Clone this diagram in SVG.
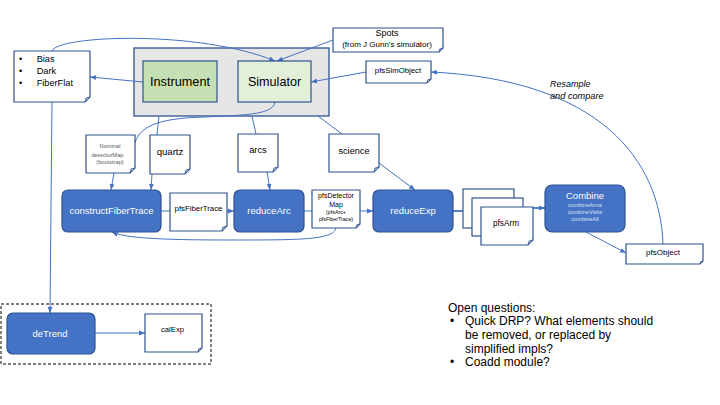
<svg xmlns="http://www.w3.org/2000/svg" width="720" height="405" viewBox="0 0 720 405">
<style>
text{font-family:"Liberation Sans",Arial,sans-serif;fill:#000}
.doc{fill:#fff;stroke:#2f528f;stroke-width:1.2}
.fold{fill:#b4c7e7;stroke:#2f528f;stroke-width:0.8}
.proc{fill:#4472c4;stroke:#2f528f;stroke-width:1.2}
.pt{fill:#fff;text-anchor:middle;font-size:9.5px}
.c{fill:none;stroke:#4472c4;stroke-width:1}
.ca{fill:none;stroke:#4472c4;stroke-width:1;marker-end:url(#ah)}
.m{text-anchor:middle}
</style>
<defs>
<marker id="ah" viewBox="0 0 10 10" refX="10" refY="5" markerWidth="6" markerHeight="6" markerUnits="userSpaceOnUse" orient="auto"><path d="M0,1 L10,5 L0,9 z" fill="#4472c4"/></marker>
</defs>
<rect width="720" height="405" fill="#fff"/>

<g id="simgroup"><rect x="134" y="48" width="195" height="68" fill="#e7e6e6" stroke="#2f528f" stroke-width="1.3"/></g>

<g id="connectors">
<path class="ca" d="M143,82 L90,77"/>
<path class="ca" d="M52,51 C58,35 200,30 275,61"/>
<path class="ca" d="M333,40 L277,61"/>
<path class="ca" d="M366,72 L311,82"/>
<path class="c" d="M275,102 C273,114 250,115 205,117 C165,118 140,124 135,143"/>
<path class="c" d="M159,116 L157,135"/>
<path class="c" d="M252,116 L256,134"/>
<path class="c" d="M318,116 L342,134"/>
<path class="ca" d="M114,173 L111,190"/>
<path class="ca" d="M152,174 L151,190"/>
<path class="ca" d="M267,172 L270,190"/>
<path class="ca" d="M379,163 L415,190"/>
<path class="ca" d="M161,211 L234,211"/>
<path class="ca" d="M304,211 L373,211"/>
<path class="c" d="M453,211 L463,211" style="stroke-width:1.8"/>
<path class="ca" d="M533,208 L545,208" style="stroke-width:1.8"/>
<path class="ca" d="M586,232 L626,253"/>
<path class="ca" d="M663,244 C660,160 600,80 431,72"/>
<path class="ca" d="M336,228 C333,240 300,240 230,240 C160,240 125,238 112,232"/>
<path class="ca" d="M52,102 L50,313"/>
<path class="ca" d="M95,333 L145,333"/>
</g>

<g id="instrument"><rect x="143" y="61" width="74" height="41" fill="#c5e0b4" stroke="#2f528f" stroke-width="1.2"/><text class="m" x="180" y="85.5" font-size="12.7">Instrument</text></g>
<g id="simulator"><rect x="238" y="61" width="73" height="41" fill="#e2f0d9" stroke="#2f528f" stroke-width="1.2"/><text class="m" x="274.5" y="85.5" font-size="12.6">Simulator</text></g>

<g id="calibs"><path class="doc" d="M14,51 H90 V97 L85,102 H14 Z"/><polygon class="fold" points="85,102 90,97 86,98"/>
<text x="19" y="61.7" font-size="9.2">•</text><text x="36.7" y="61.7" font-size="9.2">Bias</text>
<text x="19" y="74" font-size="9.2">•</text><text x="36.7" y="74" font-size="9.2">Dark</text>
<text x="19" y="86.2" font-size="9.2">•</text><text x="36.7" y="86.2" font-size="9.2">FiberFlat</text></g>

<g id="spots"><path class="doc" d="M333,28 H443 V48 L439,52 H333 Z"/><polygon class="fold" points="439,52 443,48 439.8,48.8"/>
<text class="m" x="387" y="36" font-size="9">Spots</text><text class="m" x="387" y="46.7" font-size="8">(from J Gunn’s simulator)</text></g>

<g id="pfsSimObject"><path class="doc" d="M366,61 H431 V79 L427,83 H366 Z"/><polygon class="fold" points="427,83 431,79 427.8,79.8"/>
<text class="m" x="398" y="72.7" font-size="7.8">pfsSimObject</text></g>

<g id="nominal"><path class="doc" d="M86,135 H135 V168 L130,173 H86 Z"/><polygon class="fold" points="130,173 135,168 131,169"/>
<text class="m" x="110" y="148" font-size="5.7" style="fill:#595959">Nominal</text>
<text class="m" x="107.5" y="156.7" font-size="5.8" style="fill:#595959">detectorMap</text>
<text class="m" x="110" y="163.5" font-size="5.7" style="fill:#595959">(bootstrap)</text></g>

<g id="quartz"><path class="doc" d="M150,135 H190 V169 L185,174 H150 Z"/><polygon class="fold" points="185,174 190,169 186,170"/>
<text class="m" x="170" y="155" font-size="9.6">quartz</text></g>

<g id="arcs"><path class="doc" d="M238,134 H278 V167 L273,172 H238 Z"/><polygon class="fold" points="273,172 278,167 274,168"/>
<text class="m" x="258" y="153.2" font-size="9.3">arcs</text></g>

<g id="science"><path class="doc" d="M329,134 H379 V167 L374,172 H329 Z"/><polygon class="fold" points="374,172 379,167 375,168"/>
<text class="m" x="354" y="154" font-size="9.2">science</text></g>

<g id="constructFiberTrace"><rect class="proc" x="62" y="190" width="99" height="42" rx="6"/><text class="pt" x="111.5" y="214.3">constructFiberTrace</text></g>

<g id="pfsFiberTrace"><path class="doc" d="M170,193 H227 V226 L222,231 H170 Z"/><polygon class="fold" points="222,231 227,226 223,227"/>
<text class="m" x="198.5" y="210.7" font-size="7.8">pfsFiberTrace</text></g>

<g id="reduceArc"><rect class="proc" x="234" y="190" width="70" height="42" rx="6"/><text class="pt" x="269" y="214.3">reduceArc</text></g>

<g id="pfsDetectorMap"><path class="doc" d="M312,190 H360 V224 L356,228 H312 Z"/><polygon class="fold" points="356,228 360,224 356.8,224.8"/>
<text class="m" x="336" y="197.5" font-size="7">pfsDetector</text>
<text class="m" x="336" y="206.5" font-size="7">Map</text>
<text class="m" x="336" y="214" font-size="5.3">(pfsArc+</text>
<text class="m" x="336" y="221" font-size="5.3">pfsFiberTrace)</text></g>

<g id="reduceExp"><rect class="proc" x="373" y="190" width="80" height="42" rx="6"/><text class="pt" x="413" y="214.3">reduceExp</text></g>

<g id="pfsArm">
<rect class="doc" x="463" y="189" width="51" height="39"/>
<rect class="doc" x="472" y="198" width="51" height="38"/>
<path class="doc" d="M481,207 H533 V240 L528,245 H481 Z"/><polygon class="fold" points="528,245 533,240 529,241"/>
<text class="m" x="506" y="226" font-size="8.2">pfsArm</text></g>

<g id="combine"><rect class="proc" x="545" y="185" width="80" height="47" rx="7"/>
<text class="pt" x="585" y="198.5">Combine</text>
<text class="m" x="585" y="207" font-size="5.6" style="fill:#dae3f3">combineArms</text>
<text class="m" x="585" y="214" font-size="5.6" style="fill:#dae3f3">combineVisits</text>
<text class="m" x="585" y="221" font-size="5.6" style="fill:#dae3f3">combineAll</text></g>

<g id="pfsObject"><path class="doc" d="M626,244 H703 V261 L700,264 H626 Z"/><polygon class="fold" points="700,264 703,261 700.6,261.6"/>
<text class="m" x="663" y="255" font-size="8">pfsObject</text></g>

<g id="resampleLabel"><text x="550" y="86.5" font-size="9" font-style="italic">Resample</text><text x="550" y="99.3" font-size="9.2" font-style="italic">and compare</text></g>

<g id="calibGroup"><rect x="1" y="304" width="210" height="60" fill="none" stroke="#000" stroke-width="1" stroke-dasharray="3,2"/></g>

<g id="deTrend"><rect class="proc" x="7" y="313" width="88" height="41" rx="6"/><text class="pt" x="50" y="337">deTrend</text></g>

<g id="calExp"><path class="doc" d="M145,314 H202 V348 L198,352 H145 Z"/><polygon class="fold" points="198,352 202,348 198.8,348.8"/>
<text class="m" x="172.5" y="331.7" font-size="7.7">calExp</text></g>

<g id="questions" font-size="12">
<text x="448" y="311.5">Open questions:</text>
<text x="450" y="325.3">•</text><text x="465" y="325.3">Quick DRP? What elements should</text>
<text x="465" y="339">be removed, or replaced by</text>
<text x="465" y="352.7">simplified impls?</text>
<text x="450" y="366.4">•</text><text x="465" y="366.4">Coadd module?</text>
</g>
</svg>
